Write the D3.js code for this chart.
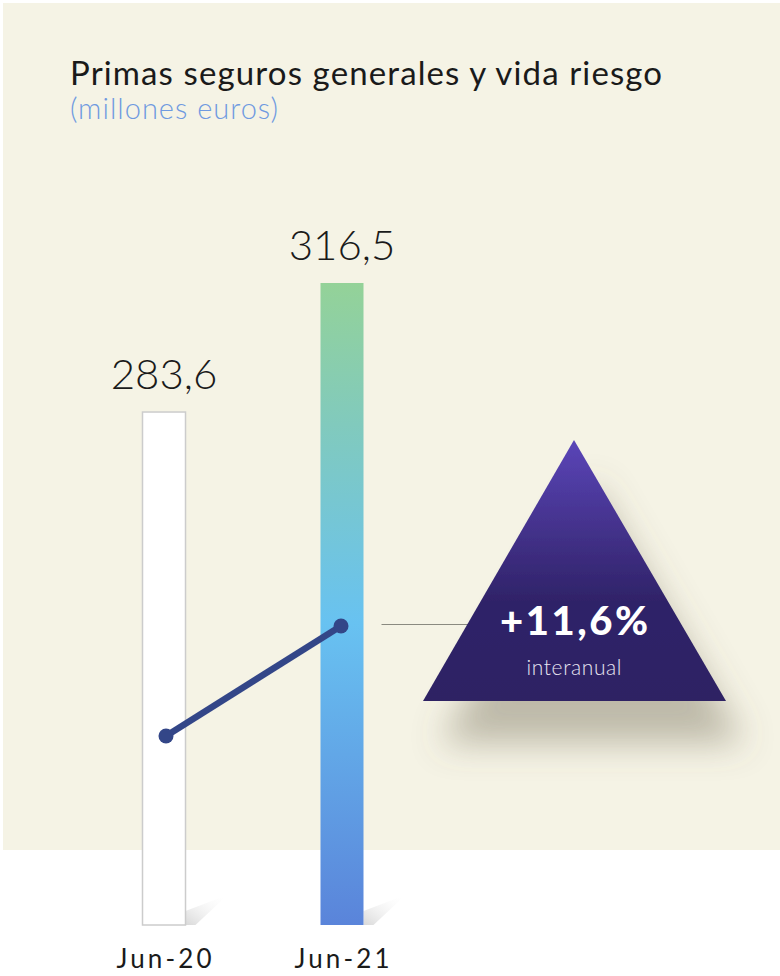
<!DOCTYPE html>
<html>
<head>
<meta charset="utf-8">
<script src="https://cdn.jsdelivr.net/npm/d3@7"></script>
<style>
  body { margin: 0; background: #fff; }
  svg { display: block; }
</style>
</head>
<body>
<svg id="chart" width="780" height="976"></svg>
<script>
const categories = ['Jun-20', 'Jun-21']
const values = [283.6, 316.5]
const changeLabel = '+11,6%'
const changeSub = 'interanual'
const title = 'Primas seguros generales y vida riesgo'
const subtitle = '(millones euros)'

const svg = d3.select('#chart')
const esLocale = d3.formatLocale({ decimal: ',', thousands: '.', grouping: [3], currency: ['', ' €'] })
const fmt = esLocale.format('.1f')

const defs = svg.append('defs')

// bar gradient
const barGrad = defs.append('linearGradient')
    .attr('id', 'barGrad')
    .attr('x1', 0).attr('y1', 0).attr('x2', 0).attr('y2', 1)
barGrad.selectAll('stop')
    .data([['0%', '#94d298'], ['22%', '#81cabd'], ['53%', '#68c2f1'], ['100%', '#5a84da']])
    .join('stop')
    .attr('offset', (d) => d[0])
    .attr('stop-color', (d) => d[1])

const triGrad = defs.append('linearGradient')
    .attr('id', 'triGrad')
    .attr('x1', 0).attr('y1', 0).attr('x2', 0).attr('y2', 1)
triGrad.selectAll('stop')
    .data([['0%', '#5a45b8'], ['35%', '#43318a'], ['62%', '#2f2368'], ['100%', '#2d2264']])
    .join('stop')
    .attr('offset', (d) => d[0])
    .attr('stop-color', (d) => d[1])

const shGrad = defs.append('linearGradient')
    .attr('id', 'shGrad')
    .attr('x1', 0).attr('y1', 1).attr('x2', 1).attr('y2', 0)
shGrad.append('stop').attr('offset', '0%').attr('stop-color', '#d8d8d8')
shGrad.append('stop').attr('offset', '100%').attr('stop-color', '#ffffff').attr('stop-opacity', 0)

const shadow = defs.append('filter')
    .attr('id', 'triShadow')
    .attr('x', '-30%').attr('y', '-30%').attr('width', '170%').attr('height', '170%')
shadow.append('feDropShadow')
    .attr('dx', 18).attr('dy', 42)
    .attr('stdDeviation', 17)
    .attr('flood-color', '#6b6450')
    .attr('flood-opacity', 0.4)

// panel
svg.append('rect')
    .attr('x', 3).attr('y', 3)
    .attr('width', 777).attr('height', 847)
    .attr('fill', '#f5f3e5')

svg.append('text')
    .attr('x', 70).attr('y', 85)
    .attr('font-family', 'Lato, sans-serif')
    .attr('font-size', 33)
    .attr('textLength', 592)
    .attr('lengthAdjust', 'spacing')
    .attr('fill', '#1a1a1a')
    .text(title)

svg.append('text')
    .attr('x', 70).attr('y', 119)
    .attr('font-family', 'Lato, sans-serif')
    .attr('font-weight', 300)
    .attr('font-size', 29)
    .attr('textLength', 208)
    .attr('lengthAdjust', 'spacing')
    .attr('fill', '#6f9ae0')
    .text(subtitle)

// scales
const x = d3.scalePoint().domain(categories).range([164, 342])
const y = d3.scaleLinear().domain([152.8, 316.5]).range([925, 283])
const barW = 43
const baseY = y.range()[0]

const data = categories.map((c, i) => ({ cat: c, value: values[i] }))

// bar shadows
svg.append('g')
    .selectAll('path')
    .data(data)
    .join('path')
    .attr('d', (d) => {
        const x1 = x(d.cat) + barW / 2
        return `M${x1},${baseY}L${x1},${baseY - 14}L${x1 + 42},${baseY - 30}L${x1 + 10},${baseY}Z`
    })
    .attr('fill', 'url(#shGrad)')

// bars
svg.append('g')
    .selectAll('rect')
    .data(data)
    .join('rect')
    .attr('x', (d) => x(d.cat) - barW / 2)
    .attr('y', (d) => y(d.value))
    .attr('width', barW)
    .attr('height', (d) => baseY - y(d.value))
    .attr('fill', (d, i) => (i === 0 ? '#ffffff' : 'url(#barGrad)'))
    .attr('stroke', (d, i) => (i === 0 ? '#cccccc' : 'none'))
    .attr('stroke-width', 1.5)

// value labels
svg.append('g')
    .selectAll('text')
    .data(data)
    .join('text')
    .attr('x', (d) => x(d.cat))
    .attr('y', (d) => y(d.value) - 23)
    .attr('text-anchor', 'middle')
    .attr('font-family', 'Lato, sans-serif')
    .attr('font-weight', 300)
    .attr('font-size', 42)
    .attr('fill', '#1a1a1a')
    .text((d) => fmt(d.value))

// category labels
svg.append('g')
    .selectAll('text')
    .data(data)
    .join('text')
    .attr('x', (d) => x(d.cat))
    .attr('y', 968)
    .attr('text-anchor', 'middle')
    .attr('font-family', 'Lato, sans-serif')
    .attr('font-size', 26)
    .attr('textLength', 95)
    .attr('lengthAdjust', 'spacing')
    .attr('fill', '#1a1a1a')
    .text((d) => d.cat)

// change line
const lineY = d3.scaleLinear().domain(d3.extent(values)).range([736, 626])
const lineX = (d) => x(d.cat) + (d.cat === categories[0] ? 2 : -1)

svg.append('path')
    .datum(data)
    .attr('fill', 'none')
    .attr('stroke', '#334688')
    .attr('stroke-width', 6.5)
    .attr('d', d3.line().x(lineX).y((d) => lineY(d.value)))

svg.append('g')
    .selectAll('circle')
    .data(data)
    .join('circle')
    .attr('cx', lineX)
    .attr('cy', (d) => lineY(d.value))
    .attr('r', 7.5)
    .attr('fill', '#334688')

// connector + triangle
const last = data[data.length - 1]
svg.append('line')
    .attr('x1', x(last.cat) + barW / 2 + 18)
    .attr('x2', 470)
    .attr('y1', lineY(last.value) - 1.5)
    .attr('y2', lineY(last.value) - 1.5)
    .attr('stroke', '#8a8a80')
    .attr('stroke-width', 1)

const tri = svg.append('g')
tri.append('path')
    .attr('d', 'M574,440L726,701L423,701Z')
    .attr('fill', 'url(#triGrad)')
    .attr('filter', 'url(#triShadow)')

tri.append('text')
    .attr('x', 574).attr('y', 635)
    .attr('text-anchor', 'middle')
    .attr('font-family', 'Lato, sans-serif')
    .attr('font-weight', 900)
    .attr('font-size', 40)
    .attr('textLength', 148)
    .attr('lengthAdjust', 'spacing')
    .attr('fill', '#ffffff')
    .text(changeLabel)

tri.append('text')
    .attr('x', 574).attr('y', 675)
    .attr('text-anchor', 'middle')
    .attr('font-family', 'Lato, sans-serif')
    .attr('font-weight', 300)
    .attr('font-size', 21)
    .attr('textLength', 95)
    .attr('lengthAdjust', 'spacing')
    .attr('fill', '#e8e6f2')
    .text(changeSub)
</script>
</body>
</html>
